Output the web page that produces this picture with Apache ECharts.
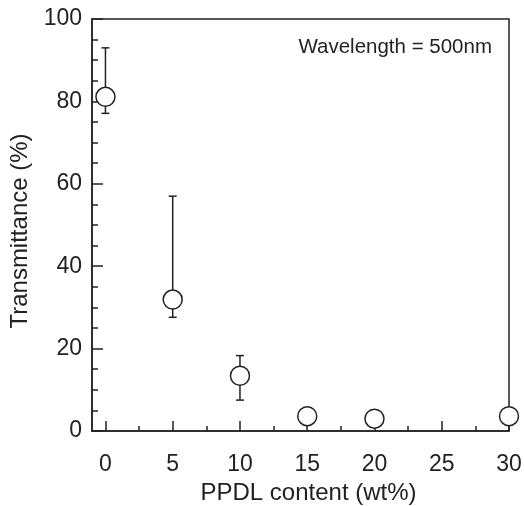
<!DOCTYPE html>
<html>
<head>
<meta charset="utf-8">
<script src="https://cdn.jsdelivr.net/npm/echarts@6/dist/echarts.min.js"></script>
<style>html,body{margin:0;padding:0;background:#fff;}#c{width:524px;height:506px;}</style>
</head>
<body>
<div id="c"></div>
<script>
// Data
var contentWt = [0, 5, 10, 15, 20, 30];
var transmittance = [81.1, 31.9, 13.4, 3.6, 3.0, 3.6];
var errLow = [77.1, 27.6, 7.5, null, null, null];
var errHigh = [93.0, 57.0, 18.3, null, null, null];
var xTickLabels = [0, 5, 10, 15, 20, 25, 30];
var xMinorTicks = [2.5, 7.5, 12.5, 17.5, 22.5, 27.5];
var annotation = 'Wavelength = 500nm';

var FONT = 'Liberation Sans, Arial, Helvetica, sans-serif';
var INK = '#222';

var points = contentWt.map(function (x, i) { return [x, transmittance[i]]; });
var errData = [];
contentWt.forEach(function (x, i) {
  if (errLow[i] != null) errData.push([x, errLow[i], errHigh[i]]);
});

var chart = echarts.init(document.getElementById('c'));
chart.setOption({
  animation: false,
  backgroundColor: '#fff',
  grid: { left: 92, top: 19, right: 15, bottom: 75, containLabel: false, outerBoundsMode: 'none', show: true, borderColor: INK, borderWidth: 1.5, backgroundColor: 'transparent' },
  xAxis: [{
    type: 'value', min: -1, max: 30,
    name: 'PPDL content (wt%)', nameLocation: 'middle', nameGap: 50,
    nameTextStyle: { fontFamily: FONT, fontSize: 24, color: INK, padding: [0, 0, 0, 16] },
    axisLine: { show: true, onZero: false, lineStyle: { color: INK, width: 1.5 } },
    axisTick: { show: true, inside: true, length: 10, customValues: xTickLabels, lineStyle: { color: INK, width: 1.5 } },
    axisLabel: { customValues: xTickLabels, margin: 22, fontFamily: FONT, fontSize: 23, color: INK },
    splitLine: { show: false }
  }, {
    type: 'value', min: -1, max: 30, position: 'bottom',
    axisLine: { show: false, onZero: false },
    axisTick: { show: true, inside: true, length: 5, customValues: xMinorTicks, lineStyle: { color: INK, width: 1.5 } },
    axisLabel: { show: false },
    splitLine: { show: false }
  }],
  yAxis: {
    type: 'value', min: 0, max: 100, interval: 20,
    name: 'Transmittance (%)', nameLocation: 'middle', nameGap: 55,
    nameTextStyle: { fontFamily: FONT, fontSize: 24, color: INK, padding: [0, 12, 0, 0] },
    axisLine: { show: true, onZero: false, lineStyle: { color: INK, width: 1.5 } },
    axisTick: { show: true, inside: true, length: 11, lineStyle: { color: INK, width: 1.5 } },
    minorTick: { show: true, splitNumber: 4, length: 6, lineStyle: { color: INK, width: 1.5 } },
    axisLabel: { margin: 10, fontFamily: FONT, fontSize: 23, color: INK },
    splitLine: { show: false },
    minorSplitLine: { show: false }
  },
  graphic: [{
    type: 'text', right: 32, top: 37,
    style: { text: annotation, fontFamily: FONT, fontSize: 20.5, fill: INK }
  }],
  series: [{
    type: 'custom',
    data: errData,
    z: 2,
    renderItem: function (params, api) {
      var x = api.value(0);
      var lo = api.coord([x, api.value(1)]);
      var hi = api.coord([x, api.value(2)]);
      var hw = 4;
      var st = { stroke: INK, lineWidth: 1.5, fill: null };
      return {
        type: 'group',
        children: [
          { type: 'line', shape: { x1: lo[0], y1: lo[1], x2: hi[0], y2: hi[1] }, style: st },
          { type: 'line', shape: { x1: hi[0] - hw, y1: hi[1], x2: hi[0] + hw, y2: hi[1] }, style: st },
          { type: 'line', shape: { x1: lo[0] - hw, y1: lo[1], x2: lo[0] + hw, y2: lo[1] }, style: st }
        ]
      };
    }
  }, {
    type: 'scatter',
    data: points,
    z: 5,
    symbol: 'circle',
    symbolSize: 19,
    clip: false,
    itemStyle: { color: '#fff', borderColor: INK, borderWidth: 1.5, opacity: 1 }
  }]
});
</script>
</body>
</html>
